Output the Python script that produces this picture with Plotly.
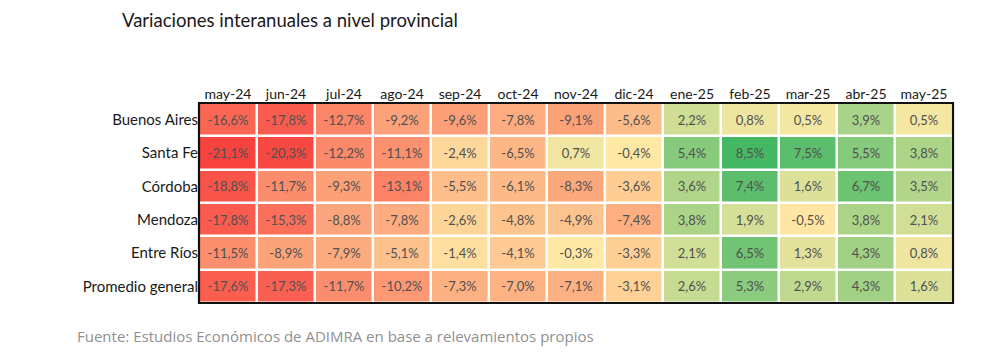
import plotly.graph_objects as go

months = ["may-24", "jun-24", "jul-24", "ago-24", "sep-24", "oct-24", "nov-24",
          "dic-24", "ene-25", "feb-25", "mar-25", "abr-25", "may-25"]
provinces = ["Buenos Aires", "Santa Fe", "Córdoba", "Mendoza", "Entre Ríos", "Promedio general"]

buenos_aires = [-16.6, -17.8, -12.7, -9.2, -9.6, -7.8, -9.1, -5.6, 2.2, 0.8, 0.5, 3.9, 0.5]
santa_fe = [-21.1, -20.3, -12.2, -11.1, -2.4, -6.5, 0.7, -0.4, 5.4, 8.5, 7.5, 5.5, 3.8]
cordoba = [-18.8, -11.7, -9.3, -13.1, -5.5, -6.1, -8.3, -3.6, 3.6, 7.4, 1.6, 6.7, 3.5]
mendoza = [-17.8, -15.3, -8.8, -7.8, -2.6, -4.8, -4.9, -7.4, 3.8, 1.9, -0.5, 3.8, 2.1]
entre_rios = [-11.5, -8.9, -7.9, -5.1, -1.4, -4.1, -0.3, -3.3, 2.1, 6.5, 1.3, 4.3, 0.8]
promedio = [-17.6, -17.3, -11.7, -10.2, -7.3, -7.0, -7.1, -3.1, 2.6, 5.3, 2.9, 4.3, 1.6]

z = [buenos_aires, santa_fe, cordoba, mendoza, entre_rios, promedio]
text = [[f"{v:.1f}%".replace(".", ",") for v in row] for row in z]

zmin = min(min(r) for r in z)
zmax = max(max(r) for r in z)
mid = (0 - zmin) / (zmax - zmin)

fig = go.Figure(go.Heatmap(
    z=z, x=months, y=provinces,
    text=text, texttemplate="%{text}",
    textfont=dict(size=13, color="#505050", family="Lato"),
    colorscale=[[0, "#F8423E"], [mid, "#FFEAA6"], [1, "#44B864"]],
    zmin=zmin, zmax=zmax,
    xgap=2.5, ygap=2.5, showscale=False, hoverinfo="skip",
))

fig.add_shape(type="rect", xref="paper", yref="paper", x0=0, y0=0, x1=1, y1=1,
              line=dict(color="#111111", width=2.2), fillcolor="rgba(0,0,0,0)")

fig.add_annotation(text="Variaciones interanuales a nivel provincial", xref="paper", yref="paper",
                   x=-0.1048, y=1.415, xanchor="left", yanchor="middle",
                   showarrow=False, font=dict(size=18.5, color="#1a1a1a", family="Lato"))
fig.add_annotation(text="Fuente: Estudios Económicos de ADIMRA en base a relevamientos propios",
                   xref="paper", yref="paper", x=-0.1645, y=-0.165, xanchor="left", yanchor="middle",
                   showarrow=False, font=dict(size=15, color="#909090", family="Open Sans"))

fig.update_layout(
    width=992, height=348,
    margin=dict(l=191, r=47, t=95, b=53),
    paper_bgcolor="white", plot_bgcolor="white",
    font=dict(family="Lato", size=13, color="#1a1a1a"),
    xaxis=dict(side="top", showgrid=False, zeroline=False, ticks="", ticklen=0,
               tickfont=dict(size=14, color="#1a1a1a"), fixedrange=True),
    yaxis=dict(autorange="reversed", showgrid=False, zeroline=False, ticks="",
               tickfont=dict(size=15, color="#1a1a1a"), fixedrange=True),
)

fig.write_html("out.html")
